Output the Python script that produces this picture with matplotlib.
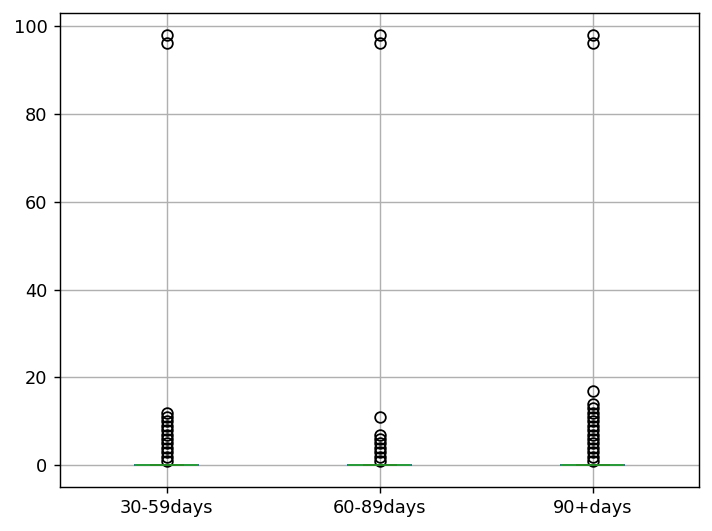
import numpy as np
import pandas as pd
import matplotlib.pyplot as plt

columns = ['30-59days', '60-89days', '90+days']
# non-zero values (distinct) observed per column; the bulk of each column is 0
late_30_59 = [1, 2, 3, 4, 5, 6, 7, 8, 9, 10, 11, 12, 96, 98]
late_60_89 = [1, 2, 3, 4, 5, 6, 7, 11, 96, 98]
late_90 = [1, 2, 3, 4, 5, 6, 7, 8, 9, 10, 11, 12, 13, 14, 17, 96, 98]
n_zero = 200

def pad(vals, n):
    out = list(vals) + [0] * (n - len(vals))
    return out

df = pd.DataFrame({
    columns[0]: pad(late_30_59, n_zero),
    columns[1]: pad(late_60_89, n_zero),
    columns[2]: pad(late_90, n_zero),
})

dpi = 128
fig = plt.figure(figsize=(712 / dpi, 531 / dpi), dpi=dpi)
ax = fig.add_axes([0.0843, 0.083, 0.8975, 0.8925])
df.boxplot(ax=ax)
fig.savefig('out.png', dpi=dpi)
